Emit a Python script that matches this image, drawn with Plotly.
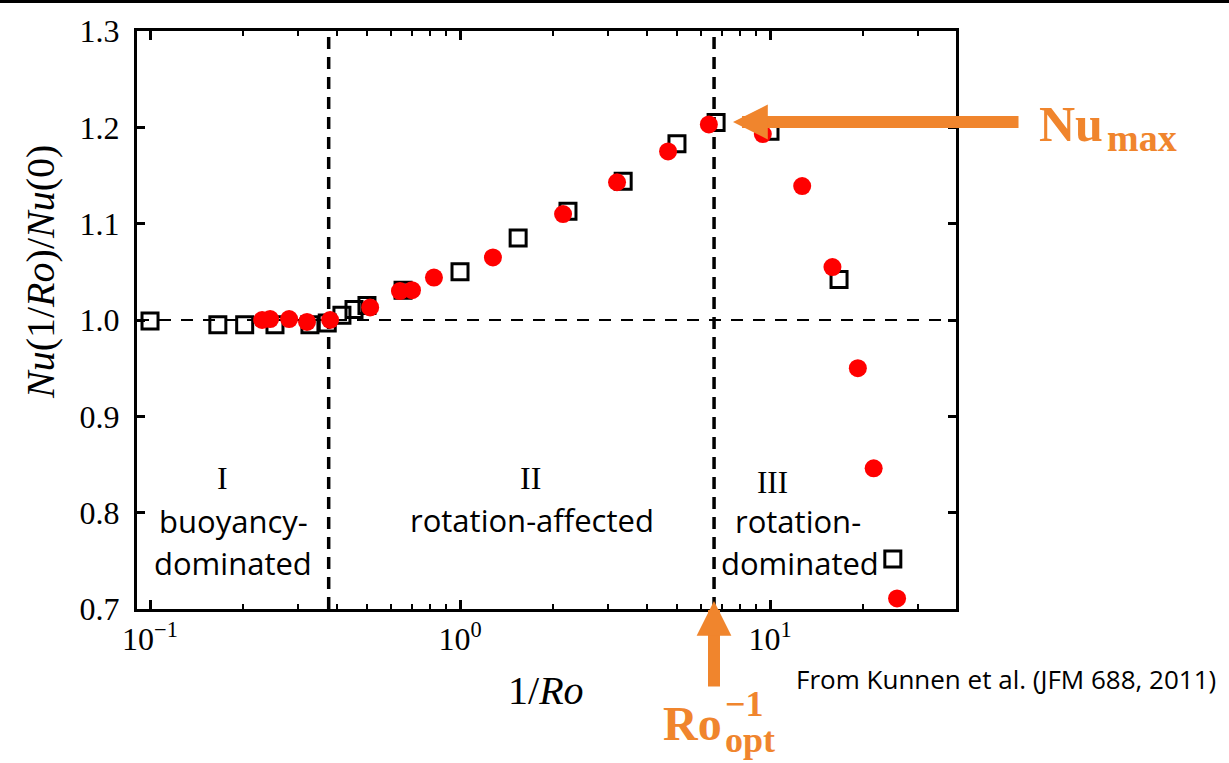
import plotly.graph_objects as go

# ---- data ----
sq_x = [0.1, 0.1655, 0.202, 0.253, 0.328, 0.373, 0.416, 0.455, 0.501, 0.655,
        1.0, 1.54, 2.23, 3.36, 5.01, 6.70, 10.0, 16.7, 24.9]
sq_y = [0.999, 0.995, 0.995, 0.995, 0.995, 0.997, 1.005, 1.011, 1.015, 1.031,
        1.050, 1.085, 1.113, 1.144, 1.183, 1.205, 1.196, 1.042, 0.752]
ci_x = [0.230, 0.244, 0.281, 0.321, 0.381, 0.513, 0.640, 0.700, 0.824, 1.277,
        2.15, 3.21, 4.69, 6.35, 9.48, 12.7, 15.9, 19.2, 21.6, 25.7]
ci_y = [1.000, 1.001, 1.001, 0.998, 1.000, 1.013, 1.030, 1.031, 1.044, 1.065,
        1.110, 1.143, 1.175, 1.203, 1.193, 1.139, 1.055, 0.950, 0.846, 0.711]
regime_bounds = [0.377, 6.6]
nu_ref = 1.0
x_ticks = [0.1, 1, 10]
x_ticktext = ["10<sup>\u22121</sup>", "10<sup>0</sup>", "10<sup>1</sup>"]
y_ticks = [0.7, 0.8, 0.9, 1.0, 1.1, 1.2, 1.3]
minor_x = [m * 10.0 ** e for e in (-1, 0, 1) for m in range(2, 10)]

ORANGE = "#F0852D"
SERIF = "Liberation Serif"
SANS = "Open Sans"

fig = go.Figure()
fig.add_trace(go.Scatter(x=sq_x, y=sq_y, mode="markers",
                         marker=dict(symbol="square-open", size=16, color="black",
                                     line=dict(width=3, color="black")),
                         showlegend=False))
fig.add_trace(go.Scatter(x=ci_x, y=ci_y, mode="markers",
                         marker=dict(symbol="circle", size=18, color="#FF0000",
                                     line=dict(width=0)),
                         showlegend=False))

shapes = [
    dict(type="line", xref="paper", yref="y", x0=0, x1=1, y0=nu_ref, y1=nu_ref,
         line=dict(color="black", width=2, dash="12px,10px"), layer="below"),
]
for b in regime_bounds:
    shapes.append(dict(type="line", xref="x", yref="paper", x0=b, x1=b, y0=0, y1=1,
                       line=dict(color="black", width=3.5, dash="12px,8px"), layer="below"))
# top border line of the slide
shapes.append(dict(type="line", xref="paper", yref="paper", x0=-0.17, x1=1.34,
                   y0=1.051, y1=1.051, line=dict(color="black", width=3)))

W, H = 1229, 763
L, R, T, B = 137, 273, 31, 154
pw, ph = W - L - R, H - T - B


def px(xp):
    return (xp - L) / pw


def py(yp):
    return (H - B - yp) / ph


ann = []


def txt(text, x, y, size, family=SANS, color="black", **kw):
    ann.append(dict(text=text, x=px(x), y=py(y), xref="paper", yref="paper",
                    showarrow=False, font=dict(size=size, family=family, color=color),
                    xanchor="center", yanchor="middle", **kw))


# regime labels
txt("I", 222, 478, 32, SERIF)
txt("buoyancy-", 233, 521, 31)
txt("dominated", 233, 563, 31)
txt("II", 530, 478, 32, SERIF)
txt("rotation-affected", 532, 520, 31)
txt("III", 772, 482, 31, SERIF)
txt("rotation-", 798, 521, 31)
txt("dominated", 800, 563, 31)

# axis titles
txt("<i>Nu</i>(1/<i>Ro</i>)/<i>Nu</i>(0)", 40, 272, 40, SERIF, textangle=-90)
txt("1/<i>Ro</i>", 546, 690, 40, SERIF)

# source
txt("From Kunnen et al. (JFM 688, 2011)", 1006, 679, 26)

# orange labels
txt("<b>Nu</b>", 1071, 124, 50, SERIF, ORANGE)
txt("<b>max</b>", 1142, 138, 38, SERIF, ORANGE)
txt("<b>Ro</b>", 692, 723, 48, SERIF, ORANGE)
txt("<b>\u22121</b>", 744, 704, 36, SERIF, ORANGE)
txt("<b>opt</b>", 750, 740, 36, SERIF, ORANGE)

# orange arrows
ann.append(dict(x=px(733), y=py(122), xref="paper", yref="paper", text="",
                showarrow=True, ax=287, ay=0, arrowhead=2, arrowsize=0.58,
                arrowwidth=12, arrowcolor=ORANGE))
ann.append(dict(x=px(714), y=py(601), xref="paper", yref="paper", text="",
                showarrow=True, ax=0, ay=87, arrowhead=2, arrowsize=0.58,
                arrowwidth=12, arrowcolor=ORANGE))

fig.update_layout(
    width=W, height=H, margin=dict(l=L, r=R, t=T, b=B, pad=0),
    paper_bgcolor="white", plot_bgcolor="white",
    shapes=shapes, annotations=ann, showlegend=False,
)
fig.update_xaxes(type="log", range=[-1.042, 1.6], tickvals=x_ticks, ticktext=x_ticktext,
                 ticks="inside", ticklen=9, tickwidth=3, tickcolor="black",
                 minor=dict(tickvals=minor_x, ticks="inside", ticklen=5, tickwidth=2,
                            tickcolor="black", showgrid=False),
                 showline=True, linewidth=3, linecolor="black", mirror="ticks",
                 showgrid=False, zeroline=False,
                 tickfont=dict(family=SERIF, size=32, color="black"))
fig.update_yaxes(range=[0.7, 1.3], tickvals=y_ticks, tickformat=".1f",
                 ticks="inside", ticklen=8, tickwidth=3, tickcolor="black",
                 showline=True, linewidth=3, linecolor="black", mirror="ticks",
                 showgrid=False, zeroline=False, ticklabelstandoff=8,
                 tickfont=dict(family=SERIF, size=32, color="black"))

fig.write_html("out.html")
